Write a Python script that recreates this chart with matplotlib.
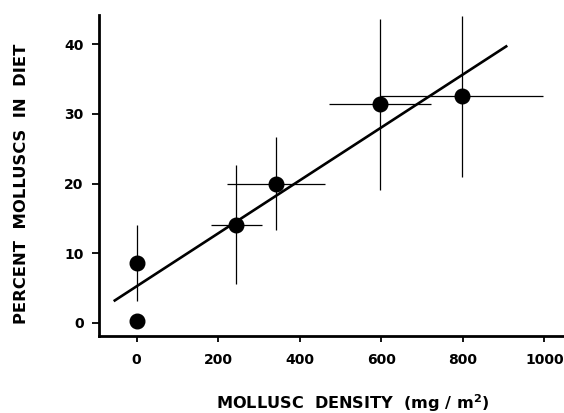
import matplotlib
matplotlib.use("Agg")
import matplotlib.pyplot as plt

# data
density = [0, 0, 245, 342, 597, 797]
percent = [0.3, 8.6, 14.1, 20.0, 31.4, 32.5]
density_err = [0, 0, 62, 119, 125, 200]
percent_err = [0, 5.4, 8.5, 6.7, 12.3, 11.5]
fit_x = [-56, 909]
fit_y = [3.1, 39.8]
xticks = [0, 200, 400, 600, 800, 1000]
yticks = [0, 10, 20, 30, 40]

plt.rcParams['font.family'] = ['DejaVu Sans']
plt.rcParams['font.weight'] = 'bold'

fig = plt.figure(figsize=(5.64, 4.13), dpi=100)
ax = fig.add_axes([0.1755, 0.1864, 1 - 0.1755, 0.7772])

ax.errorbar(density, percent, xerr=density_err, yerr=percent_err,
            fmt='none', ecolor='black', elinewidth=0.9, capsize=0, zorder=2)
ax.plot(fit_x, fit_y, color='black', lw=1.9, solid_capstyle='butt', zorder=3)
ax.plot(density, percent, 'o', color='black', markersize=10.5, zorder=4)

ax.set_xlim(-92, 1048)
ax.set_ylim(-1.9, 44.2)
ax.set_xticks(xticks)
ax.set_yticks(yticks)
ax.set_xticklabels([str(v) for v in xticks], fontsize=10, fontweight='bold')
ax.set_yticklabels([str(v) for v in yticks], fontsize=10, fontweight='bold')

for s in ['top', 'right']:
    ax.spines[s].set_visible(False)
for s in ['left', 'bottom']:
    ax.spines[s].set_linewidth(2.0)
ax.tick_params(axis='x', direction='out', length=4, width=1.3, pad=8.5)
ax.tick_params(axis='y', direction='out', length=5, width=1.3, pad=6)

fig.text(22 / 564, 1 - 183.5 / 413, 'PERCENT  MOLLUSCS  IN  DIET', rotation=90,
         ha='center', va='center', fontsize=11.8, fontweight='bold')
fig.text(353 / 564, 1 - 409 / 413, r'MOLLUSC  DENSITY  (mg / m$^{\mathbf{2}}$)',
         ha='center', va='baseline', fontsize=11.6, fontweight='bold')

fig.savefig('out.png', dpi=100)
